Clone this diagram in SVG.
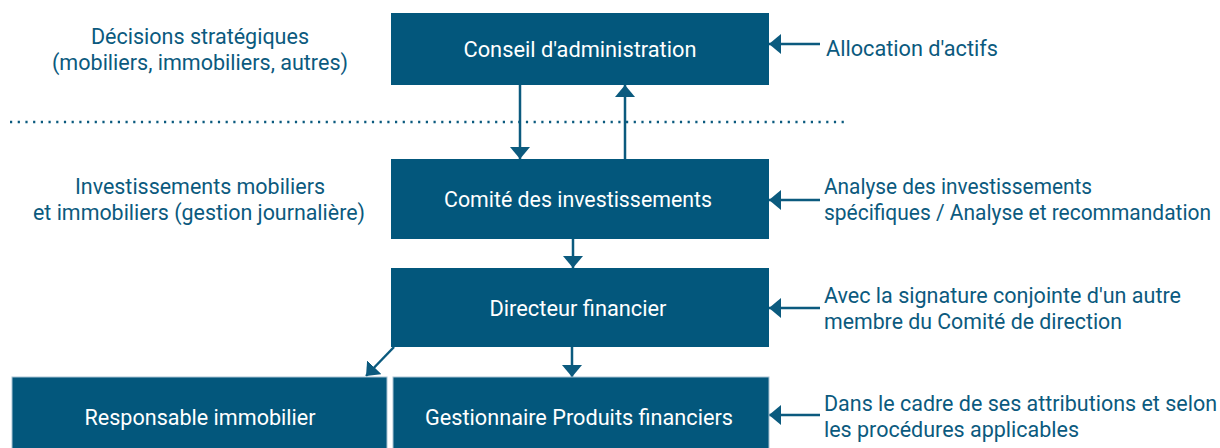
<svg xmlns="http://www.w3.org/2000/svg" width="1220" height="448" viewBox="0 0 1220 448">
<defs>
<style>
.box{fill:#03577c;}
.bt{font-family:Roboto,"Liberation Sans",sans-serif;font-size:22px;fill:#ffffff;text-anchor:middle;}
.lt{font-family:Roboto,"Liberation Sans",sans-serif;font-size:21.5px;fill:#0b5a7e;}
.mid{text-anchor:middle;}
.con{stroke:#0b5a7e;stroke-width:2.5;fill:none;}
</style>
<marker id="ah" viewBox="0 0 12 20" refX="12" refY="10" markerWidth="12" markerHeight="20" markerUnits="userSpaceOnUse" orient="auto">
<path d="M0,0 L12,10 L0,20 Z" fill="#0b5a7e"/>
</marker>
</defs>
<rect width="1220" height="448" fill="#ffffff"/>
<line x1="10" y1="122" x2="848" y2="122" stroke="#0b5a7e" stroke-width="2.5" stroke-dasharray="2.2 5.5"/>
<g id="connectors">
<line class="con" x1="520" y1="85" x2="520" y2="159" marker-end="url(#ah)"/>
<line class="con" x1="625" y1="159" x2="625" y2="85" marker-end="url(#ah)"/>
<line class="con" x1="573" y1="239" x2="573" y2="268" marker-end="url(#ah)"/>
<line class="con" x1="572" y1="347" x2="572" y2="377" marker-end="url(#ah)"/>
<line class="con" x1="394" y1="347" x2="366" y2="376" marker-end="url(#ah)"/>
<line class="con" x1="820" y1="44" x2="769" y2="44" marker-end="url(#ah)"/>
<line class="con" x1="820" y1="200" x2="769" y2="200" marker-end="url(#ah)"/>
<line class="con" x1="820" y1="308" x2="769" y2="308" marker-end="url(#ah)"/>
<line class="con" x1="820" y1="415" x2="769" y2="415" marker-end="url(#ah)"/>
</g>
<g id="n1"><rect class="box" x="391" y="13" width="378" height="72"/><text class="bt" x="580" y="57" textLength="233" lengthAdjust="spacingAndGlyphs">Conseil d'administration</text></g>
<g id="n2"><rect class="box" x="391" y="159" width="378" height="80"/><text class="bt" x="578" y="207" textLength="268" lengthAdjust="spacingAndGlyphs">Comité des investissements</text></g>
<g id="n3"><rect class="box" x="391" y="268" width="378" height="79"/><text class="bt" x="578" y="316" textLength="177" lengthAdjust="spacingAndGlyphs">Directeur financier</text></g>
<g id="n4"><rect class="box" x="12" y="377" width="375" height="75" stroke="#a9c3d3" stroke-width="1"/><text class="bt" x="200" y="425" textLength="231" lengthAdjust="spacingAndGlyphs">Responsable immobilier</text></g>
<g id="n5"><rect class="box" x="393" y="377" width="376" height="75" stroke="#a9c3d3" stroke-width="1"/><text class="bt" x="579" y="425" textLength="308" lengthAdjust="spacingAndGlyphs">Gestionnaire Produits financiers</text></g>
<g id="labels">
<text class="lt mid" x="200" y="44" textLength="218" lengthAdjust="spacingAndGlyphs">Décisions stratégiques</text>
<text class="lt mid" x="200" y="70" textLength="296" lengthAdjust="spacingAndGlyphs">(mobiliers, immobiliers, autres)</text>
<text class="lt mid" x="200" y="194" textLength="250" lengthAdjust="spacingAndGlyphs">Investissements mobiliers</text>
<text class="lt mid" x="199" y="220" textLength="332" lengthAdjust="spacingAndGlyphs">et immobiliers (gestion journalière)</text>
<text class="lt" x="826" y="56" textLength="172" lengthAdjust="spacingAndGlyphs">Allocation d'actifs</text>
<text class="lt" x="824" y="194" textLength="268" lengthAdjust="spacingAndGlyphs">Analyse des investissements</text>
<text class="lt" x="824" y="220" textLength="387" lengthAdjust="spacingAndGlyphs">spécifiques / Analyse et recommandation</text>
<text class="lt" x="824" y="303" textLength="357" lengthAdjust="spacingAndGlyphs">Avec la signature conjointe d'un autre</text>
<text class="lt" x="824" y="329" textLength="298" lengthAdjust="spacingAndGlyphs">membre du Comité de direction</text>
<text class="lt" x="824" y="411" textLength="393" lengthAdjust="spacingAndGlyphs">Dans le cadre de ses attributions et selon</text>
<text class="lt" x="824" y="437" textLength="255" lengthAdjust="spacingAndGlyphs">les procédures applicables</text>
</g>
</svg>
